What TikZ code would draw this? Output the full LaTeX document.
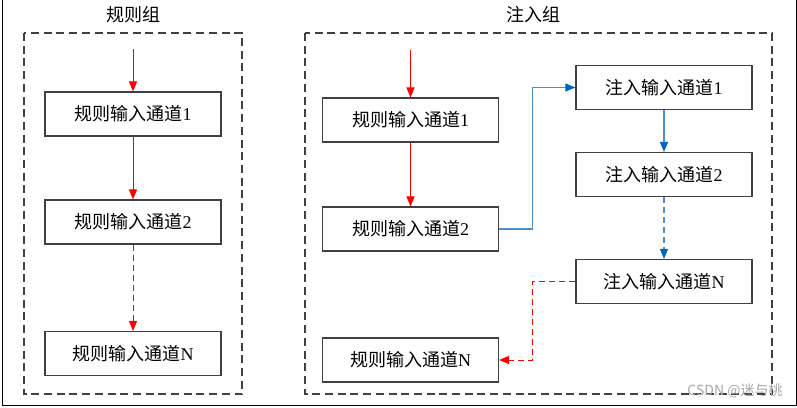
\documentclass[tikz,border=0pt]{standalone}
\usepackage{fontspec}
\setmainfont{Liberation Serif}
\newfontfamily\cjk{Noto Sans CJK SC}
\usetikzlibrary{arrows.meta}
\definecolor{boxline}{HTML}{404040}
\definecolor{bluel}{HTML}{4A90D0}
\definecolor{blueh}{HTML}{0066C0}
\tikzset{
  chan/.style={draw=boxline, line width=1.1pt, minimum width=176pt, minimum height=44pt, inner sep=0pt, font=\fontsize{18}{20}\selectfont},
  grp/.style={draw=boxline, line width=1.1pt, dash pattern=on 8pt off 4.7pt},
  ttl/.style={font=\fontsize{18}{20}\selectfont\cjk},
  redarr/.style={draw=red, line width=1pt, -{Triangle[length=10pt,width=8pt]}},
  redd/.style={redarr, dash pattern=on 6pt off 4pt},
  bluearr/.style={draw=bluel, line width=1.1pt, -{Triangle[length=10pt,width=8pt,color=blueh]}},
  blued/.style={bluearr, dash pattern=on 6pt off 4pt},
}
\begin{document}
\begin{tikzpicture}[x=1pt,y=-1pt]
\useasboundingbox (0,0) rectangle (797,407);
% outer frame
\draw[line width=0.8pt] (2,-2) -- (2,405) -- (796,405) -- (796,-2);
% group boxes
\draw[grp] (24,33) rectangle (242,394);
\draw[grp] (305,33) rectangle (772,394);
\node[ttl] (t1) at (133.5,15) {规则组};
\node[ttl] (t2) at (533,15) {注入组};
% left group
\coordinate (s1) at (133,49);
\node[chan] (L1) at (133,114) {{\cjk 规则输入通道}1};
\node[chan] (L2) at (133,222) {{\cjk 规则输入通道}2};
\node[chan] (LN) at (133,353.5) {{\cjk 规则输入通道}N};
\draw[redarr] (s1) -- (L1);
\draw[redarr] (L1) -- (L2);
\draw[redd] (L2) -- (LN);
% right group
\coordinate (s2) at (410.5,50);
\node[chan] (R1) at (410.5,120) {{\cjk 规则输入通道}1};
\node[chan] (R2) at (410.5,229) {{\cjk 规则输入通道}2};
\node[chan] (RN) at (410.5,360) {{\cjk 规则输入通道}N};
\node[chan] (I1) at (664,87.5) {{\cjk 注入输入通道}1};
\node[chan] (I2) at (664,174.5) {{\cjk 注入输入通道}2};
\node[chan] (IN) at (664,281.5) {{\cjk 注入输入通道}N};
\draw[redarr] (s2) -- (R1);
\draw[redarr] (R1) -- (R2);
\draw[bluearr] (R2.east) -- ++(33,0) |- (I1.west);
\draw[bluearr] (I1) -- (I2);
\draw[blued] (I2) -- (IN);
\draw[redd] (IN.west) -- ++(-43,0) |- (RN.east);
% watermark
\node[font=\fontsize{14}{16}\selectfont\cjk, text=black!35] (wm) at (735,391) {CSDN @迷与桃};
\end{tikzpicture}
\end{document}
